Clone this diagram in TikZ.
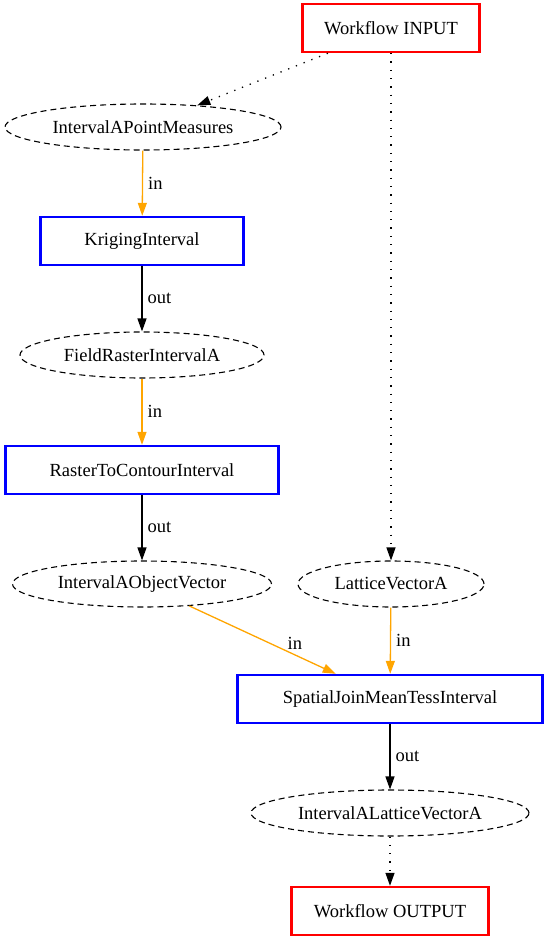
\documentclass[tikz,border=0pt]{standalone}
\usepackage{fontspec}
\setmainfont{Liberation Serif}
\usetikzlibrary{arrows.meta,shapes.geometric}
\definecolor{gvorange}{HTML}{FFA500}
\tikzset{
  wfbox/.style={draw=red, line width=2.4pt, minimum height=48pt, inner sep=0pt},
  tool/.style={draw=blue, line width=2.4pt, minimum height=48pt, inner sep=0pt},
  data/.style={draw, dash pattern=on 6pt off 4pt, line width=1.1pt, ellipse, minimum height=46pt, inner sep=0pt},
  tip/.style={-{Triangle[length=13pt,width=9pt]}},
  inedge/.style={draw=gvorange, line width=1.3pt, tip},
  outedge/.style={draw=black, line width=1.3pt, tip},
  flow/.style={draw, dash pattern=on 1.3pt off 7pt, line width=1.3pt, tip},
  lbl/.style={right, inner sep=5pt}
}
\begin{document}
\begin{tikzpicture}[x=1pt, y=-1pt, font=\fontsize{18.5}{21}\selectfont]
\useasboundingbox (0,0) rectangle (548,941);
\node[wfbox, minimum width=177pt] (input) at (391,28) {Workflow INPUT};
\node[data, minimum width=276pt] (ptmeas) at (143,127) {IntervalAPointMeasures};
\node[tool, minimum width=203pt] (kriging) at (142,241) {KrigingInterval};
\node[data, minimum width=244pt] (fieldraster) at (142,355) {FieldRasterIntervalA};
\node[tool, minimum width=273pt] (contour) at (142,470) {RasterToContourInterval};
\node[data, minimum width=259pt] (objvec) at (142,584) {IntervalAObjectVector};
\node[data, minimum width=186pt] (lattice) at (391,584) {LatticeVectorA};
\node[tool, minimum width=305pt] (spjoin) at (390,699) {SpatialJoinMeanTessInterval};
\node[data, minimum width=278pt] (latvec) at (390,813) {IntervalALatticeVectorA};
\node[wfbox, minimum width=197pt] (output) at (390,911) {Workflow OUTPUT};
% edges
\draw[flow] (input) -- (ptmeas);
\draw[flow] (input) -- (lattice);
\draw[inedge] (ptmeas) -- (kriging) node[lbl, midway]{in};
\draw[outedge] (kriging) -- (fieldraster) node[lbl, midway]{out};
\draw[inedge] (fieldraster) -- (contour) node[lbl, midway]{in};
\draw[outedge] (contour) -- (objvec) node[lbl, midway]{out};
\draw[inedge] (objvec) -- (spjoin) node[above right, pos=0.66, inner sep=1pt]{in};
\draw[inedge] (lattice) -- (spjoin) node[lbl, midway]{in};
\draw[outedge] (spjoin) -- (latvec) node[lbl, midway]{out};
\draw[flow] (latvec) -- (output);
\end{tikzpicture}
\end{document}
